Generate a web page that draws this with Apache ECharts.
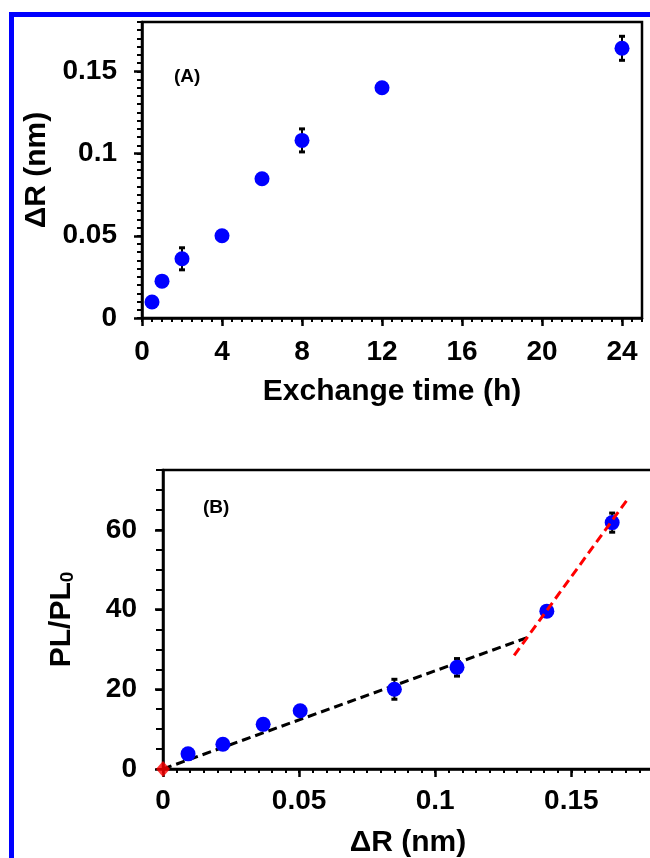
<!DOCTYPE html>
<html><head><meta charset="utf-8">
<script src="https://cdn.jsdelivr.net/npm/echarts@6/dist/echarts.min.js"></script>
<style>html,body{margin:0;padding:0;background:#fff}#c{width:650px;height:858px}</style>
</head><body><div id="c"></div>
<script>
// Panel A data
const timeA = [0.5, 1, 2, 4, 6, 8, 12, 24];
const dRA = [0.0097, 0.0224, 0.036, 0.050, 0.0847, 0.108, 0.140, 0.164];
const errA = [0, 0, 0.0067, 0, 0, 0.007, 0, 0.0073];
// Panel B data
const dRB = [0.0092, 0.022, 0.0368, 0.0504, 0.085, 0.108, 0.141, 0.165];
const plB = [3.8, 6.2, 11.2, 14.6, 20.0, 25.5, 39.6, 61.8];
const errB = [0, 0, 0, 0, 2.5, 2.2, 0, 2.4];
const originB = [[0, 0]];
const fitLow = [[0, 0], [0.134, 33]];
const fitHigh = [[0.129, 28.5], [0.1706, 67.6]];
// Tick labels
const ticksAx = [0, 4, 8, 12, 16, 20, 24];
const ticksAy = [0, 0.05, 0.1, 0.15];
const ticksBx = [0, 0.05, 0.1, 0.15];
const ticksBy = [0, 20, 40, 60];

const FONT = 'Liberation Sans';
const blue = '#0000ff';

function pts(xs, ys) { return xs.map((x, i) => [x, ys[i]]); }
function errPts(xs, ys, es) { return xs.map((x, i) => [x, ys[i], es[i]]).filter(d => d[2] > 0); }

function errRender(params, api) {
  const x = api.value(0), y = api.value(1), e = api.value(2);
  const top = api.coord([x, y + e]), bot = api.coord([x, y - e]);
  const w = 3;
  return { type: 'group', children: [
    { type: 'line', shape: { x1: top[0], y1: top[1], x2: bot[0], y2: bot[1] }, style: { stroke: '#000', lineWidth: 2 } },
    { type: 'line', shape: { x1: top[0] - w, y1: top[1], x2: top[0] + w, y2: top[1] }, style: { stroke: '#000', lineWidth: 3 } },
    { type: 'line', shape: { x1: bot[0] - w, y1: bot[1], x2: bot[0] + w, y2: bot[1] }, style: { stroke: '#000', lineWidth: 3 } }
  ]};
}

const lbl = { color: '#000', fontFamily: FONT, fontWeight: 'bold', fontSize: 28 };
const nameStyle = { color: '#000', fontFamily: FONT, fontWeight: 'bold', fontSize: 30 };

function minorAxis(grid, pos, min, max, interval, len) {
  return {
    gridIndex: grid, type: 'value', position: pos, offset: 0, min: min, max: max, interval: interval,
    axisLine: { show: true, onZero: false, lineStyle: { color: '#000', width: 2.5 } },
    axisTick: { show: true, length: len, lineStyle: { color: '#000', width: 2 } },
    axisLabel: { show: false }, splitLine: { show: false }
  };
}
function majorAxis(grid, pos, min, max, interval, ticks, len, margin, name, gap, extra) {
  return Object.assign({
    gridIndex: grid, type: 'value', position: pos, offset: 0, min: min, max: max, interval: interval,
    axisLine: { show: false, onZero: false },
    axisTick: { show: true, length: len, customValues: ticks, lineStyle: { color: '#000', width: 2.5 } },
    axisLabel: Object.assign({ customValues: ticks, margin: margin }, lbl),
    splitLine: { show: false },
    name: name, nameLocation: 'middle', nameGap: gap, nameTextStyle: nameStyle
  }, extra || {});
}

const option = {
  animation: false,
  backgroundColor: '#fff',
  grid: [
    { left: 142, top: 22, width: 500, height: 296, show: true, borderColor: '#000', borderWidth: 2.5, backgroundColor: 'transparent', containLabel: false, outerBoundsMode: 'none' },
    { left: 163, top: 470, width: 490, height: 299, show: true, borderColor: '#000', borderWidth: 2.5, backgroundColor: 'transparent', containLabel: false, outerBoundsMode: 'none' }
  ],
  xAxis: [
    minorAxis(0, 'bottom', 0, 25, 0.5, 4),
    majorAxis(0, 'bottom', 0, 25, 4, ticksAx, 8, 20, 'Exchange time (h)', 59),
    minorAxis(1, 'bottom', 0, 0.18, 0.005, 4),
    majorAxis(1, 'bottom', 0, 0.18, 0.05, ticksBx, 8, 18, 'ΔR (nm)', 59)
  ],
  yAxis: [
    minorAxis(0, 'left', 0, 0.18, 0.005, 5),
    majorAxis(0, 'left', 0, 0.18, 0.05, ticksAy, 8, 25, 'ΔR (nm)', 89),
    minorAxis(1, 'left', 0, 75, 5, 7),
    majorAxis(1, 'left', 0, 75, 20, ticksBy, 8, 26, 'PL/PL{sub|0}', 86, {
      nameTextStyle: Object.assign({ rich: { sub: { fontFamily: FONT, fontWeight: 'bold', fontSize: 19, color: '#000', verticalAlign: 'bottom', padding: [12, 0, 0, 0] } } }, nameStyle)
    })
  ],
  series: [
    { type: 'custom', xAxisIndex: 1, yAxisIndex: 1, renderItem: errRender, data: errPts(timeA, dRA, errA), z: 2 },
    { type: 'scatter', xAxisIndex: 1, yAxisIndex: 1, data: pts(timeA, dRA), symbolSize: 15, itemStyle: { color: blue, opacity: 1 }, z: 3 },
    { type: 'line', xAxisIndex: 3, yAxisIndex: 3, data: fitLow, showSymbol: false, lineStyle: { color: '#000', width: 3, type: [9, 5] }, z: 2 },
    { type: 'custom', xAxisIndex: 3, yAxisIndex: 3, renderItem: errRender, data: errPts(dRB, plB, errB), z: 2 },
    { type: 'scatter', xAxisIndex: 3, yAxisIndex: 3, data: pts(dRB, plB), symbolSize: 15, itemStyle: { color: blue, opacity: 1 }, z: 3 },
    { type: 'line', xAxisIndex: 3, yAxisIndex: 3, data: fitHigh, showSymbol: false, lineStyle: { color: '#ff0000', width: 3, type: [9, 5] }, z: 4 },
    { type: 'scatter', xAxisIndex: 3, yAxisIndex: 3, data: originB, symbol: 'diamond', symbolSize: [14, 16], itemStyle: { color: '#ff0000' }, z: 5 }
  ],
  graphic: [
    { type: 'polyline', shape: { points: [[11.5, 858], [11.5, 14.5], [650, 14.5]] }, style: { stroke: blue, lineWidth: 5, fill: null }, z: 100 },
    { type: 'text', left: 174, top: 67, style: { text: '(A)', font: 'bold 19px "Liberation Sans"', fill: '#000' } },
    { type: 'text', left: 203, top: 498, style: { text: '(B)', font: 'bold 19px "Liberation Sans"', fill: '#000' } }
  ]
};

const chart = echarts.init(document.getElementById('c'), null, { renderer: 'canvas' });
chart.setOption(option);
</script>
</body></html>
